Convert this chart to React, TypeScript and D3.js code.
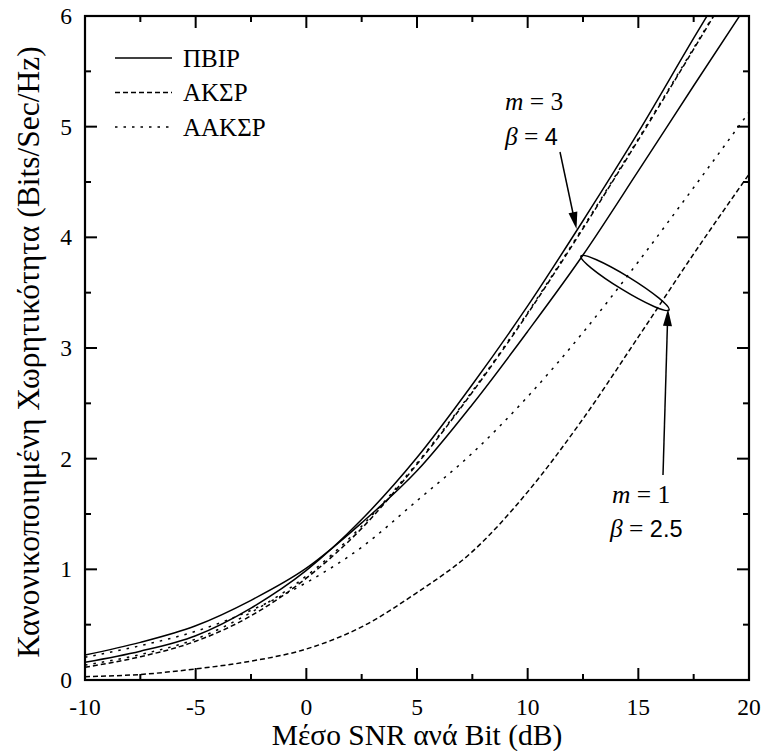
import React from "react";
import * as d3 from "d3";

const snr = [-10, -7.5, -5, -2.5, 0, 2.5, 5, 7.5, 10, 12.5, 15, 17.5, 20];
// m = 1, beta = 2.5
const m1Opra = [0.226, 0.34, 0.49, 0.72, 1.01, 1.42, 1.89, 2.49, 3.15, 3.84, 4.6, 5.37, 6.13];
const m1Tifr = [0.205, 0.31, 0.44, 0.63, 0.88, 1.2, 1.62, 2.05, 2.56, 3.14, 3.78, 4.45, 5.13];
const m1Tci = [0.03, 0.05, 0.1, 0.17, 0.28, 0.48, 0.79, 1.16, 1.7, 2.36, 3.1, 3.85, 4.57];
// m = 3, beta = 4
const m3Opra = [0.16, 0.26, 0.4, 0.65, 0.99, 1.45, 2.01, 2.67, 3.38, 4.15, 4.95, 5.8, 6.63];
const m3Tifr = [0.135, 0.23, 0.37, 0.61, 0.94, 1.39, 1.96, 2.61, 3.32, 4.09, 4.89, 5.71, 6.54];
const m3Tci = [0.115, 0.21, 0.35, 0.58, 0.92, 1.37, 1.95, 2.6, 3.31, 4.08, 4.88, 5.7, 6.53];

const xTicks = [-10, -5, 0, 5, 10, 15, 20];
const xMinor = [-7.5, -2.5, 2.5, 7.5, 12.5, 17.5];
const yTicks = [0, 1, 2, 3, 4, 5, 6];
const yMinor = [0.5, 1.5, 2.5, 3.5, 4.5, 5.5];

const legendLabels = ["ΠΒΙΡ", "ΑΚΣΡ", "ΑΑΚΣΡ"];
const styles: Record<string, string> = { solid: "none", dashed: "5,3", dotted: "2.5,6" };

const series = [
  { v: m1Opra, s: "solid" },
  { v: m3Opra, s: "solid" },
  { v: m1Tci, s: "dashed" },
  { v: m3Tci, s: "dashed" },
  { v: m1Tifr, s: "dotted" },
  { v: m3Tifr, s: "dotted" },
];

const L = 85, R = 749, T = 16, B = 680;
const serif = '"Liberation Serif", "Times New Roman", Times, serif';
const sans = '"Liberation Sans", Arial, sans-serif';
const fs = (size: number, family = serif, italic = false): React.CSSProperties => ({
  fontFamily: family,
  fontSize: size + "px",
  fontStyle: italic ? "italic" : "normal",
});

export default function App() {
  const x = d3.scaleLinear().domain([-10, 20]).range([L, R]);
  const y = d3.scaleLinear().domain([0, 6]).range([B, T]);
  const line = d3
    .line<number>()
    .x((_, i) => x(snr[i]))
    .y((d) => y(d))
    .curve(d3.curveMonotoneX);

  const arrowHead = (x1: number, y1: number, x2: number, y2: number, len = 17, w = 4.5) => {
    const a = Math.atan2(y2 - y1, x2 - x1);
    const bx = x2 - len * Math.cos(a), by = y2 - len * Math.sin(a);
    const px = -Math.sin(a) * w, py = Math.cos(a) * w;
    return `M${x2},${y2}L${bx + px},${by + py}L${bx - px},${by - py}Z`;
  };

  const e1 = { x: 581, y: 256 }, e2 = { x: 669, y: 310 };
  const ecx = (e1.x + e2.x) / 2, ecy = (e1.y + e2.y) / 2;
  const erx = Math.hypot(e2.x - e1.x, e2.y - e1.y) / 2;
  const eang = (Math.atan2(e2.y - e1.y, e2.x - e1.x) * 180) / Math.PI;

  const ann = 25.5;

  return (
    <svg width={763} height={751} style={{ position: "absolute", left: 0, top: 0, background: "#fff" }}>
      <defs>
        <clipPath id="plot">
          <rect x={L} y={T} width={R - L} height={B - T} />
        </clipPath>
      </defs>
      <rect x={0} y={0} width={763} height={751} fill="#fff" />
      <g clipPath="url(#plot)" fill="none" stroke="#000" strokeWidth={1.5}>
        {series.map((s, i) => (
          <path key={i} d={line(s.v) || ""} strokeDasharray={styles[s.s]} />
        ))}
      </g>
      <g stroke="#000" strokeWidth={2}>
        {xTicks.map((t) => (
          <g key={"xt" + t}>
            <line x1={x(t)} x2={x(t)} y1={B} y2={B - 12} />
            <line x1={x(t)} x2={x(t)} y1={T} y2={T + 12} />
          </g>
        ))}
        {xMinor.map((t) => (
          <g key={"xm" + t}>
            <line x1={x(t)} x2={x(t)} y1={B} y2={B - 6} />
            <line x1={x(t)} x2={x(t)} y1={T} y2={T + 6} />
          </g>
        ))}
        {yTicks.map((t) => (
          <g key={"yt" + t}>
            <line x1={L} x2={L + 12} y1={y(t)} y2={y(t)} />
            <line x1={R} x2={R - 12} y1={y(t)} y2={y(t)} />
          </g>
        ))}
        {yMinor.map((t) => (
          <g key={"ym" + t}>
            <line x1={L} x2={L + 6} y1={y(t)} y2={y(t)} />
            <line x1={R} x2={R - 6} y1={y(t)} y2={y(t)} />
          </g>
        ))}
      </g>
      <rect x={L} y={T} width={R - L} height={B - T} fill="none" stroke="#000" strokeWidth={2.2} />
      <g fill="#000">
        {xTicks.map((t) => (
          <text key={"xl" + t} x={x(t)} y={715} textAnchor="middle" style={fs(23.5)}>
            {t}
          </text>
        ))}
        {yTicks.map((t) => (
          <text key={"yl" + t} x={72} y={y(t) + 8} textAnchor="end" style={fs(23.5)}>
            {t}
          </text>
        ))}
      </g>
      <text x={417} y={745} textAnchor="middle" style={fs(29.5)} fill="#000">
        Μέσο SNR ανά Bit (dB)
      </text>
      <text
        transform={`translate(39,352) rotate(-90)`}
        textAnchor="middle"
        style={fs(31.5)}
        fill="#000"
      >
        Κανονικοποιημένη Χωρητικότητα (Bits/Sec/Hz)
      </text>
      <g fill="#000">
        {legendLabels.map((lab, i) => (
          <g key={lab}>
            <line
              x1={115}
              x2={172}
              y1={58 + i * 34.5}
              y2={58 + i * 34.5}
              stroke="#000"
              strokeWidth={1.5}
              strokeDasharray={styles[["solid", "dashed", "dotted"][i]]}
            />
            <text x={183} y={58 + i * 34.5 + 8.5} style={fs(25)}>
              {lab}
            </text>
          </g>
        ))}
      </g>
      <g fill="#000">
        <text x={505} y={110} style={fs(ann)}>
          <tspan style={fs(ann, serif, true)}>m</tspan> = 3
        </text>
        <text x={505} y={145} style={fs(ann)}>
          <tspan style={fs(ann, serif, true)}>β</tspan> = <tspan style={fs(ann - 2, sans)}>4</tspan>
        </text>
        <text x={612} y={503} style={fs(ann)}>
          <tspan style={fs(ann, serif, true)}>m</tspan> = 1
        </text>
        <text x={610} y={537} style={fs(ann)}>
          <tspan style={fs(ann, serif, true)}>β</tspan> = <tspan style={fs(ann - 2, sans)}>2.5</tspan>
        </text>
      </g>
      <g stroke="#000" strokeWidth={1.5} fill="none">
        <line x1={560} y1={152} x2={574} y2={218} />
        <line x1={663} y1={475} x2={667.5} y2={322} />
        <ellipse cx={ecx} cy={ecy} rx={erx} ry={7} transform={`rotate(${eang},${ecx},${ecy})`} />
      </g>
      <path d={arrowHead(560, 152, 576.5, 229)} fill="#000" />
      <path d={arrowHead(663, 475, 668, 309)} fill="#000" />
    </svg>
  );
}
